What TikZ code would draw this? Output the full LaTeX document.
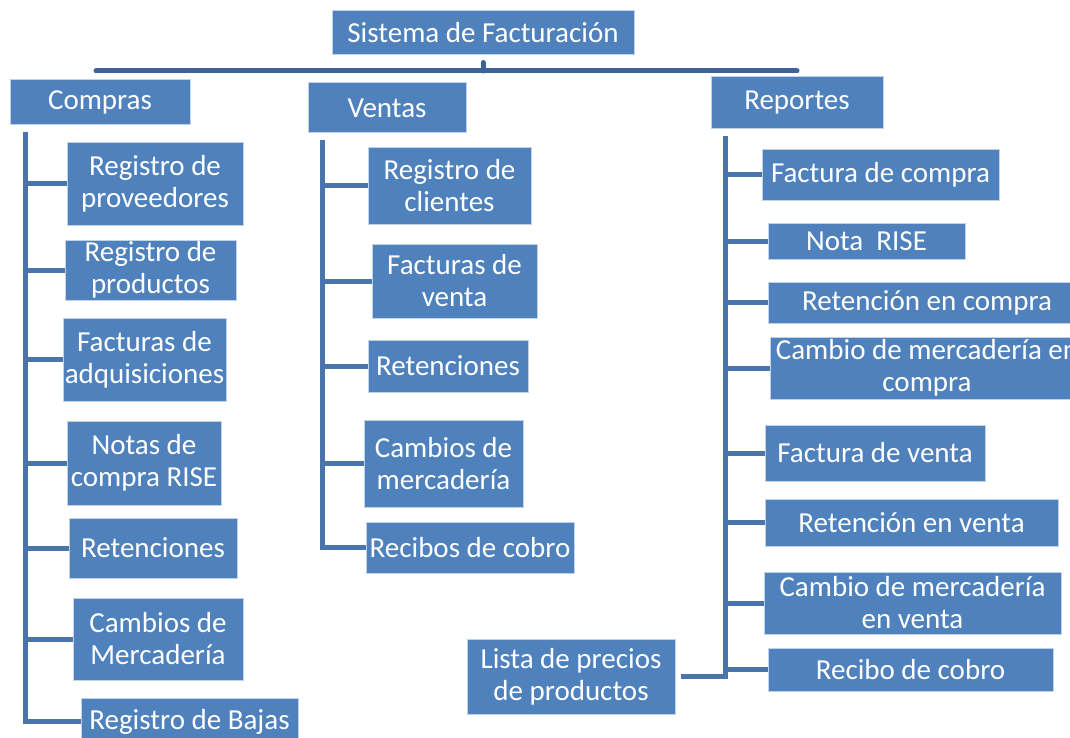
\documentclass[tikz,border=0pt]{standalone}
\usepackage{fontspec}
\setmainfont{Carlito}
\usepackage{tikz}
\definecolor{boxblue}{RGB}{79,129,189}
\definecolor{linkblue}{RGB}{73,117,172}
\definecolor{topblue}{RGB}{62,100,150}

\begin{document}
\begin{tikzpicture}[x=1pt,y=-1pt,
	item_box/.style={rectangle,fill=boxblue,draw=white!65!boxblue,line width=1pt,text=white,align=center,inner sep=0pt,font=\fontsize{29}{32}\selectfont},
	link/.style={draw=linkblue,line width=5pt},
	top_link/.style={draw=topblue,line width=5pt,line cap=round}]
	\useasboundingbox (0,0) rectangle (1070,738);
	\clip (0,0) rectangle (1070,738);

	\node[item_box,minimum width=302pt,minimum height=44pt] (sis) at (483,33) {Sistema de Facturación};
	\node[item_box,minimum width=180pt,minimum height=45pt] (compras) at (100,102.5) {Compras};
	\node[item_box,minimum width=158pt,minimum height=50pt] (ventas) at (387,108) {Ventas};
	\node[item_box,minimum width=172pt,minimum height=52pt] (reportes) at (797,103) {Reportes};

	\node[item_box,minimum width=176pt,minimum height=82pt] (c_prov) at (155,184) {Registro de\\proveedores};
	\node[item_box,minimum width=171pt,minimum height=60pt] (c_prod) at (150.5,270) {Registro de\\productos};
	\node[item_box,minimum width=163pt,minimum height=83pt] (c_fact) at (144.5,359.5) {Facturas de\\adquisiciones};
	\node[item_box,minimum width=154pt,minimum height=84pt] (c_rise) at (144,463) {Notas de\\compra RISE};
	\node[item_box,minimum width=168pt,minimum height=60pt] (c_ret) at (153,548) {Retenciones};
	\node[item_box,minimum width=170pt,minimum height=82pt] (c_camb) at (158,639) {Cambios de\\Mercadería};
	\node[item_box,minimum width=217pt,minimum height=47pt] (c_bajas) at (189.5,721.5) {Registro de Bajas};

	\node[item_box,minimum width=163pt,minimum height=76pt] (v_cli) at (449.5,186) {Registro de\\clientes};
	\node[item_box,minimum width=165pt,minimum height=74pt] (v_fact) at (454.5,281) {Facturas de\\venta};
	\node[item_box,minimum width=160pt,minimum height=52pt] (v_ret) at (448,366) {Retenciones};
	\node[item_box,minimum width=159pt,minimum height=87pt] (v_camb) at (443.5,463.5) {Cambios de\\mercadería};
	\node[item_box,minimum width=208pt,minimum height=51pt] (v_rec) at (470,547.5) {Recibos de cobro};

	\node[item_box,minimum width=237pt,minimum height=50pt] (r_fc) at (880.5,175) {Factura de compra};
	\node[item_box,minimum width=197pt,minimum height=36pt] (r_rise) at (866.5,241) {Nota\ \ RISE};
	\node[item_box,minimum width=318pt,minimum height=41pt] (r_rc) at (927,302.5) {Retención en compra};
	\node[item_box,minimum width=314pt,minimum height=62pt] (r_cmc) at (927,368) {Cambio de mercadería en\\compra};
	\node[item_box,minimum width=220pt,minimum height=56pt] (r_fv) at (875,453) {Factura de venta};
	\node[item_box,minimum width=293pt,minimum height=47pt] (r_rv) at (911.5,522.5) {Retención en venta};
	\node[item_box,minimum width=297pt,minimum height=62pt] (r_cmv) at (912.5,603) {Cambio de mercadería\\en venta};
	\node[item_box,minimum width=285pt,minimum height=43pt] (r_rcb) at (910.5,669.5) {Recibo de cobro};
	\node[item_box,minimum width=208pt,minimum height=75pt] (r_lista) at (571,676.5) {Lista de precios\\de productos};

	\coordinate (hub) at (483,71);
	\coordinate (h_left) at (96,71);
	\coordinate (h_right) at (797,71);
	\coordinate (c_top) at (25,132);
	\coordinate (v_top) at (322,140);
	\coordinate (r_top) at (725,136);

	\draw[top_link] (h_left) -- (h_right);
	\draw[top_link] (hub) -- ([yshift=-7pt]sis.south);

	\draw[link] (c_top) |- (c_bajas.west);
	\foreach \n in {c_prov,c_prod,c_fact,c_rise,c_ret,c_camb}
		\draw[link] (c_top |- \n.west) -- (\n.west);

	\draw[link] (v_top) |- (v_rec.west);
	\foreach \n in {v_cli,v_fact,v_ret,v_camb}
		\draw[link] (v_top |- \n.west) -- (\n.west);

	\draw[link] (r_top) |- ([xshift=5pt]r_lista.east);
	\foreach \n in {r_fc,r_rise,r_rc,r_cmc,r_fv,r_rv,r_cmv,r_rcb}
		\draw[link] (r_top |- \n.west) -- (\n.west);
\end{tikzpicture}
\end{document}
